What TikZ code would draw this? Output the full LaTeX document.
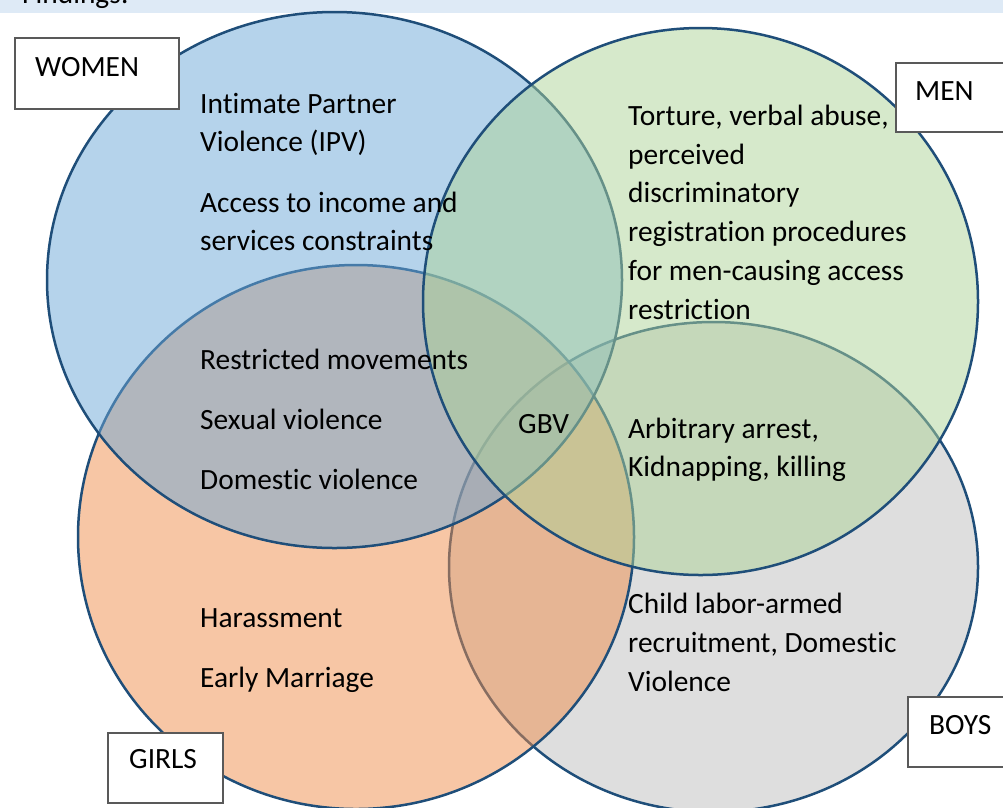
\documentclass[tikz,border=0pt]{standalone}
\usepackage{fontspec}
\setmainfont{Carlito}[Ligatures=CommonOff]
\definecolor{edgeblue}{HTML}{1F4E79}
\definecolor{boxedge}{HTML}{595959}
\definecolor{cblue}{RGB}{107,167,215}
\definecolor{cgreen}{RGB}{173,211,151}
\definecolor{corange}{RGB}{239,141,75}
\definecolor{cgray}{RGB}{189,189,189}
\definecolor{bandcol}{HTML}{DEEAF6}
\begin{document}
\begin{tikzpicture}[x=1pt,y=-1pt,
  setfill/.style={draw=edgeblue, line width=2.5pt, fill=#1, fill opacity=0.5},
  txt/.style={anchor=base west, inner sep=0pt, font=\fontsize{29.4}{35}\selectfont},
  lbox/.style={draw=boxedge, line width=1.5pt, fill=white, anchor=north west, inner sep=0pt}
]
\useasboundingbox (0,0) rectangle (1003,807);
\clip (0,0) rectangle (1003,807);
% header band
\fill[bandcol] (0,0) rectangle (1003,13);
\node[txt] (findings) at (22,3) {Findings:};
% sets
\draw[setfill=cgray]   (713.5,567) ellipse [x radius=264.5pt, y radius=245pt];
\draw[setfill=corange] (356,537)   ellipse [x radius=278pt,   y radius=272pt];
\draw[setfill=cblue]   (334.5,280) ellipse [x radius=287.5pt, y radius=268pt];
\draw[setfill=cgreen]  (700.5,301.5) ellipse [x radius=277.5pt, y radius=273.5pt];
% label boxes
\node[lbox, minimum width=164pt, minimum height=71pt] (womenbox) at (14,37) {};
\node[lbox, minimum width=130pt, minimum height=69pt] (menbox) at (895,62) {};
\node[lbox, minimum width=120pt, minimum height=70pt] (boysbox) at (907,696) {};
\node[lbox, minimum width=115pt, minimum height=70pt] (girlsbox) at (107,732) {};
\node[txt] (women) at (35,76) {WOMEN};
\node[txt] (men) at (915,100) {MEN};
\node[txt] (boys) at (929,734) {BOYS};
\node[txt] (girls) at (129,768) {GIRLS};
% women texts
\node[txt] (w1) at (200,113) {Intimate Partner};
\node[txt] (w2) at (200,151) {Violence (IPV)};
\node[txt] (w3) at (200,212) {Access to income and};
\node[txt] (w4) at (200,250) {services constraints};
% women & girls
\node[txt] (wg1) at (200,369) {Restricted movements};
\node[txt] (wg2) at (200,429) {Sexual violence};
\node[txt] (wg3) at (200,489) {Domestic violence};
% girls
\node[txt] (g1) at (200,627) {Harassment};
\node[txt] (g2) at (200,687) {Early Marriage};
% men
\node[txt] (m1) at (628,125) {Torture, verbal abuse,};
\node[txt] (m2) at (628,164) {perceived};
\node[txt] (m3) at (628,202) {discriminatory};
\node[txt] (m4) at (628,241) {registration procedures};
\node[txt] (m5) at (628,280) {for men-causing access};
\node[txt] (m6) at (628,319) {restriction};
% men & boys
\node[txt] (mb1) at (628,438) {Arbitrary arrest,};
\node[txt] (mb2) at (628,476) {Kidnapping, killing};
% boys
\node[txt] (b1) at (628,613) {Child labor-armed};
\node[txt] (b2) at (628,652) {recruitment, Domestic};
\node[txt] (b3) at (628,691) {Violence};
% centre
\node[txt] (gbv) at (518,433) {GBV};
\end{tikzpicture}
\end{document}
